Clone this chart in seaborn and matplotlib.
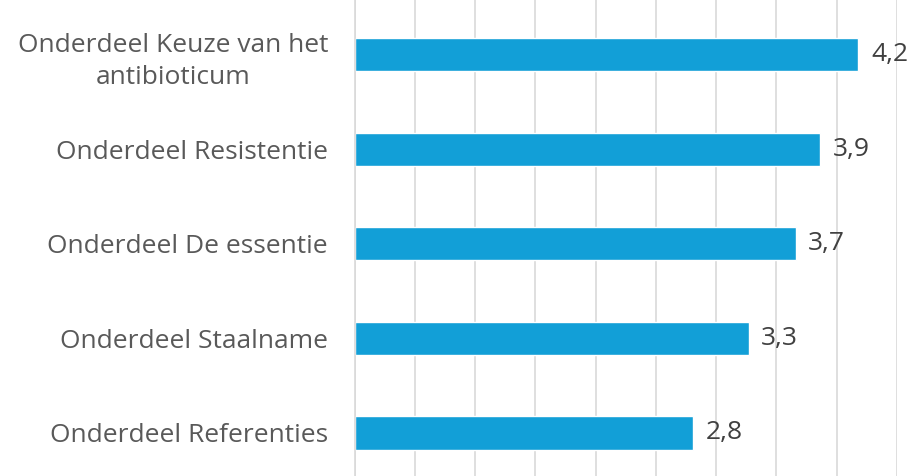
import numpy as np
import pandas as pd
import seaborn as sns
import matplotlib.pyplot as plt

onderdelen = [
    "Onderdeel Keuze van het\nantibioticum",
    "Onderdeel Resistentie",
    "Onderdeel De essentie",
    "Onderdeel Staalname",
    "Onderdeel Referenties",
]
scores = [4.18, 3.86, 3.66, 3.27, 2.81]

df = pd.DataFrame({"onderdeel": onderdelen, "score": scores})

sns.set_style("white")
plt.rcParams["font.family"] = ["Open Sans", "DejaVu Sans"]

fig = plt.figure(figsize=(9.13, 4.76), dpi=100)
ax = fig.add_axes([354.5 / 913, 0, (897 - 354.5) / 913, 1])

sns.barplot(data=df, x="score", y="onderdeel", orient="h", color="#129FD7",
            saturation=1, width=0.35, ax=ax)

ax.set_xlim(0, 4.5)
ax.set_ylim(4.455, -0.58)
ax.set_xticks(np.arange(0, 4.51, 0.5))
ax.xaxis.grid(True, color="#d9d9d9", linewidth=1.2)
ax.set_axisbelow(True)
ax.tick_params(axis="x", length=0, labelbottom=False)
ax.tick_params(axis="y", length=0, pad=19, labelsize=19, labelcolor="#595959")
for lbl in ax.get_yticklabels():
    lbl.set_multialignment("center")
    lbl.set_linespacing(1.4)

for s in ["top", "right", "bottom"]:
    ax.spines[s].set_visible(False)
ax.spines["left"].set_color("#d9d9d9")
ax.spines["left"].set_linewidth(1.2)

ax.bar_label(ax.containers[0], labels=[f"{v:.1f}".replace(".", ",") for v in scores],
             padding=9, fontsize=19, color="#404040", clip_on=False)

ax.set_xlabel("")
ax.set_ylabel("")

fig.savefig("out.png", dpi=100)
